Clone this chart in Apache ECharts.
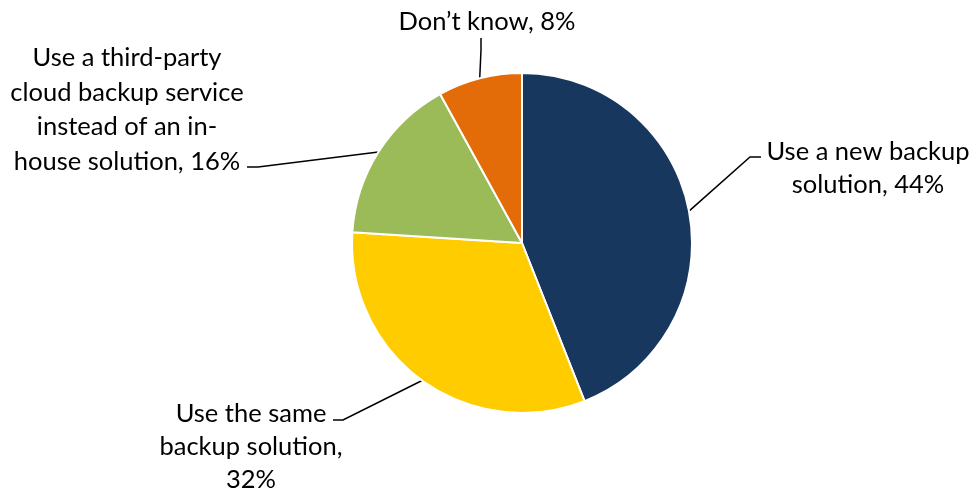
<!DOCTYPE html>
<html>
<head>
<meta charset="utf-8">
<script src="https://cdn.jsdelivr.net/npm/echarts@6/dist/echarts.min.js"></script>
<style>html,body{margin:0;padding:0;background:#fff}#c{width:974px;height:492px}</style>
</head>
<body>
<div id="c"></div>
<script>
const categories = [
  'Use a new backup solution',
  'Use the same backup solution',
  'Use a third-party cloud backup service instead of an in-house solution',
  'Don\u2019t know'
];
const labelTexts = [
  'Use a new backup\nsolution, 44%',
  'Use the same\nbackup solution,\n32%',
  'Use a third-party\ncloud backup service\ninstead of an in-\nhouse solution, 16%',
  'Don\u2019t know, 8%'
];
const values = [44, 32, 16, 8];
const colors = ['#17375e', '#ffcc00', '#9bbb59', '#e36c09'];

// label placement (layout only): centre x, centre y of first line, leader bend and end points
const labelPlacement = [
  {cx: 868, y: 152, lh: 33, bend: [750, 157], end: [761, 157]},
  {cx: 251, y: 414, lh: 33, bend: [343, 420], end: [333, 420]},
  {cx: 127, y: 58, lh: 34.5, bend: [258, 167], end: [247, 167]},
  {cx: 487, y: 22, lh: 33, bend: [481, 50], end: [481, 38]}
];

const chart = echarts.init(document.getElementById('c'), null, {renderer: 'canvas'});
chart.setOption({
  backgroundColor: '#fff',
  animation: false,
  series: [{
    type: 'pie',
    center: [522, 243],
    radius: 170,
    startAngle: 90,
    clockwise: true,
    itemStyle: {borderColor: '#fff', borderWidth: 2},
    label: {
      show: true,
      position: 'outside',
      color: '#000',
      fontFamily: 'Lato',
      fontSize: 25.5,
      lineHeight: 33,
      formatter: p => labelTexts[p.dataIndex]
    },
    labelLine: {show: true, lineStyle: {color: '#000', width: 1.5}},
    labelLayout: function (params) {
      const pl = labelPlacement[params.dataIndex];
      const p0 = params.labelLinePoints ? params.labelLinePoints[0] : pl.bend;
      return {
        x: pl.cx,
        y: pl.y - pl.lh / 2,
        align: 'center',
        verticalAlign: 'top',
        labelLinePoints: [p0, pl.bend, pl.end]
      };
    },
    data: categories.map((c, i) => ({
      name: c,
      value: values[i],
      itemStyle: {color: colors[i]},
      label: {lineHeight: labelPlacement[i].lh}
    }))
  }]
});
</script>
</body>
</html>
